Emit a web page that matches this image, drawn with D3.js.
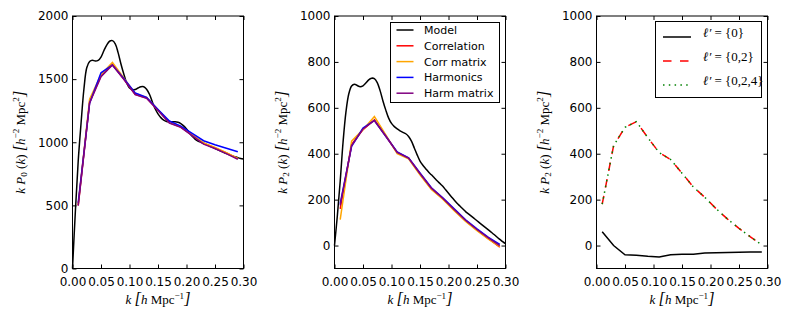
<!DOCTYPE html>
<html><head><meta charset="utf-8">
<script src="https://cdn.jsdelivr.net/npm/d3@7"></script>
<style>
body{margin:0;background:#fff}
svg text{white-space:pre}
</style>
</head><body>
<svg id="c" width="790" height="324"></svg>
<script>
// ---------------- DATA ----------------
const kBins = [0.01,0.03,0.05,0.07,0.09,0.11,0.13,0.15,0.17,0.19,0.21,0.23,0.25,0.27,0.29];
const kModel = [0,0.005,0.01,0.015,0.02,0.025,0.03,0.035,0.04,0.045,0.05,0.055,0.06,0.065,0.07,0.075,0.08,0.085,0.09,0.095,
  0.1,0.105,0.11,0.115,0.12,0.125,0.13,0.135,0.14,0.145,0.15,0.155,0.16,0.165,0.17,0.175,0.18,0.185,0.19,0.195,
  0.2,0.205,0.21,0.215,0.22,0.225,0.23,0.235,0.24,0.245,0.25,0.255,0.26,0.265,0.27,0.275,0.28,0.285,0.29,0.295,0.3];

// Monopole (panel 1)
const p0Model = [0,450,850,1150,1420,1590,1640,1650,1643,1648,1675,1725,1770,1800,1805,1780,1710,1620,1540,1470,
  1430,1418,1418,1430,1440,1440,1420,1380,1320,1265,1225,1195,1175,1165,1162,1162,1162,1158,1148,1130,
  1105,1075,1048,1025,1010,1000,992,982,972,961,950,940,930,920,910,901,892,885,878,872,867];
const p0Correlation = [500,1320,1525,1615,1500,1380,1350,1255,1155,1120,1055,990,955,915,870];
const p0CorrMatrix  = [505,1340,1535,1632,1510,1385,1355,1258,1158,1122,1058,995,958,918,872];
const p0Harmonics   = [520,1310,1550,1612,1505,1390,1355,1260,1168,1128,1070,1012,980,952,925];
const p0HarmMatrix  = [498,1312,1520,1612,1498,1378,1348,1252,1152,1118,1052,985,950,910,865];

// Quadrupole (panel 2)
const p2Model = [0,130,280,450,580,660,695,703,697,692,696,708,722,729,727,710,675,630,590,555,
  532,518,508,500,493,487,475,455,425,395,368,350,335,320,308,295,282,270,258,243,
  228,213,198,184,172,160,148,138,128,118,108,98,88,78,68,58,48,37,27,17,8];
const p2Correlation = [160,440,505,548,478,405,380,312,248,205,155,108,68,30,-7];
const p2CorrMatrix  = [113,455,505,562,482,400,378,308,244,202,152,105,65,28,-5];
const p2Harmonics   = [183,432,512,545,476,408,382,316,252,208,160,112,73,36,5];
const p2HarmMatrix  = [175,436,508,545,476,406,381,314,250,206,157,110,70,33,0];

// Quadrupole by multipole set (panel 3)
const p2Ell0   = [60,0,-40,-42,-47,-50,-40,-38,-38,-33,-31,-30,-29,-28,-28];
const p2Ell02  = [180,435,515,540,470,405,375,315,255,210,160,115,75,38,3];
const p2Ell024 = [180,435,515,540,470,405,375,315,255,210,160,115,75,38,3];

const xTicks = [0,0.05,0.1,0.15,0.2,0.25,0.3];
const yTicksP0 = [0,500,1000,1500,2000];
const yTicksP2 = [0,200,400,600,800,1000];
const legendNames2 = ["Model","Correlation","Corr matrix","Harmonics","Harm matrix"];
const legendNames3 = ["{0}","{0,2}","{0,2,4}"];

// ---------------- LAYOUT ----------------
const svg = d3.select("#c");
const plotTop = 16, plotBottom = 268.5;
const SANS = "'DejaVu Sans', sans-serif";
const SERIF = "'Liberation Serif', 'DejaVu Serif', serif";
const COL = {k:"#000000", r:"#ff0000", o:"#ffa500", b:"#0000ff", m:"#800080", g:"#008000"};

function mathText(sel, parts, size){
  let shift = 0;
  parts.forEach(([t,s])=>{
    const ts = sel.append("tspan").text(t);
    ts.attr("font-style", s.includes("i") ? "italic" : "normal");
    const target = s.includes("sub") ? 0.22*size : s.includes("sup") ? -0.42*size : 0;
    ts.attr("dy", target - shift); shift = target;
    if (target !== 0) ts.attr("font-size", size*0.7);
    else if (s.includes("big")) ts.attr("font-size", size*1.25);
    else ts.attr("font-size", size);
  });
}

function panel(left, right, yDomain, yTicks, ylabParts){
  const x = d3.scaleLinear().domain([0,0.3]).range([left,right]);
  const y = d3.scaleLinear().domain(yDomain).range([plotBottom, plotTop]);
  const g = svg.append("g");
  const style = a => a.attr("font-size",12).attr("font-family",SANS).attr("color","#000")
                      .call(s=>s.select(".domain").remove());
  g.append("g").attr("transform",`translate(0,${plotBottom})`)
    .call(d3.axisBottom(x).tickValues(xTicks).tickFormat(d3.format(".2f")).tickSize(-4).tickPadding(9)).call(style);
  g.append("g").attr("transform",`translate(0,${plotTop})`)
    .call(d3.axisTop(x).tickValues(xTicks).tickFormat("").tickSize(-4)).call(style);
  g.append("g").attr("transform",`translate(${left},0)`)
    .call(d3.axisLeft(y).tickValues(yTicks).tickFormat(d3.format("d")).tickSize(-4).tickPadding(4)).call(style);
  g.append("g").attr("transform",`translate(${right},0)`)
    .call(d3.axisRight(y).tickValues(yTicks).tickFormat("").tickSize(-4)).call(style);
  g.append("rect").attr("x",left).attr("y",plotTop).attr("width",right-left).attr("height",plotBottom-plotTop)
    .attr("fill","none").attr("stroke","#000").attr("stroke-width",1);
  // x label
  const xl = g.append("text").attr("x",(left+right)/2).attr("y",304).attr("text-anchor","middle")
    .attr("font-family",SERIF).attr("fill","#000");
  mathText(xl, [["k","i"],[" ","r"],["[","big"],["h","i"],[" Mpc","r"],["−1","sup"],["]","big"]], 13);
  // y label
  const yl = g.append("text").attr("transform",`translate(${left-48},${(plotTop+plotBottom)/2}) rotate(-90)`)
    .attr("text-anchor","middle").attr("font-family",SERIF).attr("fill","#000");
  mathText(yl, ylabParts, 13);
  const plot = g.append("g");
  return {x,y,g,plot};
}

function line(p, xs, ys, color, dash, curve){
  const gen = d3.line().x((d,i)=>p.x(xs[i])).y(d=>p.y(d)).curve(curve || d3.curveLinear);
  p.plot.append("path").attr("d", gen(ys)).attr("fill","none").attr("stroke",color)
    .attr("stroke-width",1.5).attr("stroke-dasharray",dash||null);
}

const ylab0 = [["k","i"],[" ","r"],["P","i"],["0","sub"],[" (","r"],["k","i"],[") ","r"],["[","big"],["h","i"],["−2","sup"],[" Mpc","r"],["2","sup"],["]","big"]];
const ylab2 = [["k","i"],[" ","r"],["P","i"],["2","sub"],[" (","r"],["k","i"],[") ","r"],["[","big"],["h","i"],["−2","sup"],[" Mpc","r"],["2","sup"],["]","big"]];

// Panel 1
const P1 = panel(72.5, 243.5, [0,2000], yTicksP0, ylab0);
line(P1, kModel, p0Model, COL.k, null, d3.curveCatmullRom);
line(P1, kBins, p0Correlation, COL.r);
line(P1, kBins, p0CorrMatrix, COL.o);
line(P1, kBins, p0Harmonics, COL.b);
line(P1, kBins, p0HarmMatrix, COL.m);

// Panel 2
const P2 = panel(334.5, 505.5, [-100,1000], yTicksP2, ylab2);
line(P2, kModel, p2Model, COL.k, null, d3.curveCatmullRom);
line(P2, kBins, p2Correlation, COL.r);
line(P2, kBins, p2CorrMatrix, COL.o);
line(P2, kBins, p2Harmonics, COL.b);
line(P2, kBins, p2HarmMatrix, COL.m);

// Panel 3
const P3 = panel(596.5, 767.5, [-100,1000], yTicksP2, ylab2);
line(P3, kBins, p2Ell0, COL.k);
line(P3, kBins, p2Ell02, COL.r, "8.5,8.5");
line(P3, kBins, p2Ell024, COL.g, "1.5,4.3");

// Legend panel 2
{
  const lg = svg.append("g");
  const bx = 390.5, by = 22.5;
  lg.append("rect").attr("x",bx).attr("y",by).attr("width",109).attr("height",80)
    .attr("fill","#fff").attr("stroke","#000").attr("stroke-width",1);
  const cols = [COL.k, COL.r, COL.o, COL.b, COL.m];
  legendNames2.forEach((n,i)=>{
    const yy = 30 + i*15.8;
    lg.append("line").attr("x1",396.5).attr("x2",413.5).attr("y1",yy).attr("y2",yy)
      .attr("stroke",cols[i]).attr("stroke-width",1.5);
    lg.append("text").attr("x",424).attr("y",yy).attr("dy","0.36em").attr("font-size",11)
      .attr("font-family",SANS).attr("fill","#000").text(n);
  });
}
// Legend panel 3
{
  const lg = svg.append("g");
  lg.append("rect").attr("x",655.5).attr("y",21.5).attr("width",106).attr("height",76)
    .attr("fill","#fff").attr("stroke","#000").attr("stroke-width",1);
  const cols = [COL.k, COL.r, COL.g];
  const dashes = [null, "8.5,8.5", "1.5,4.3"];
  legendNames3.forEach((n,i)=>{
    const yy = 37 + i*24;
    lg.append("line").attr("x1",663).attr("x2",691).attr("y1",yy).attr("y2",yy)
      .attr("stroke",cols[i]).attr("stroke-width",1.5).attr("stroke-dasharray",dashes[i]);
    const t = lg.append("text").attr("x",703).attr("y",yy).attr("dy","0.35em")
      .attr("font-family",SERIF).attr("fill","#000");
    mathText(t, [["ℓ′","i"],[" = ","r"],[n,"r"]], 13);
  });
}
</script>
</body></html>
